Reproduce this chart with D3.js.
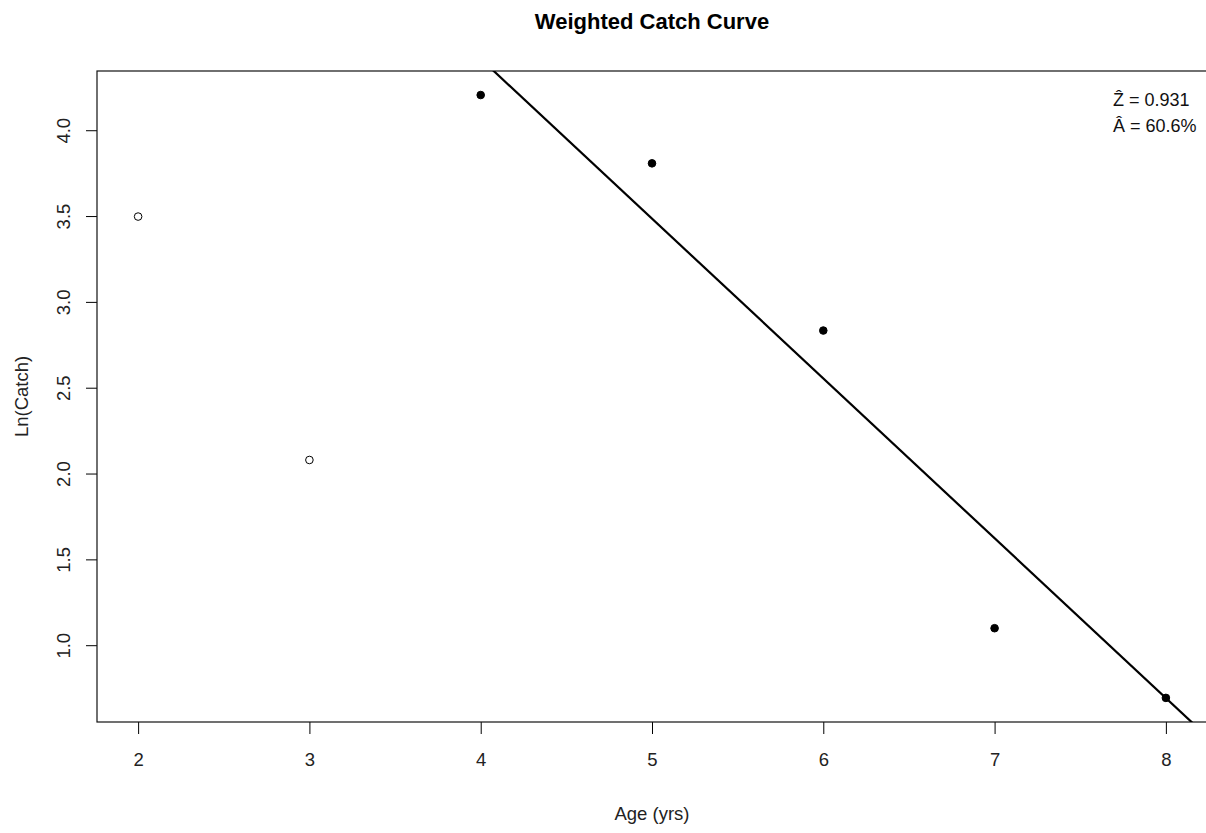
<!DOCTYPE html>
<html><head><meta charset="utf-8">
<script src="https://cdn.jsdelivr.net/npm/d3@7"></script>
<style>body{margin:0;background:#fff}svg text{font-family:"Liberation Sans",Arial,sans-serif}</style>
</head><body><svg id="c" width="1206" height="833"></svg>
<script>
const ages = [2, 3, 4, 5, 6, 7, 8];
const lnCatch = [3.497, 2.079, 4.205, 3.807, 2.833, 1.099, 0.693];
const used = [false, false, true, true, true, true, true];
const xTicks = [2, 3, 4, 5, 6, 7, 8];
const yTicks = [1.0, 1.5, 2.0, 2.5, 3.0, 3.5, 4.0];
const fitIntercept = 8.14;
const fitSlope = -0.931;
const statLabels = ["Ẑ = 0.931", "Â = 60.6%"];

const svg = d3.select("#c");
const L = 97, R = 1207, T = 71, B = 722;
const FS = 18.5;
const x = d3.scaleLinear().domain([1.76, 8.24]).range([L, R]);
const y = d3.scaleLinear().domain([0.5526, 4.345]).range([B, T]);

svg.append("text").attr("x", (L + R) / 2).attr("y", 29).attr("text-anchor", "middle")
  .attr("font-size", 22).attr("font-weight", "bold").text("Weighted Catch Curve");

const xa = svg.append("g").attr("transform", `translate(0,${B})`)
  .call(d3.axisBottom(x).tickValues(xTicks).tickSize(12).tickPadding(19).tickFormat(d3.format("d")));
xa.select(".domain").remove();
xa.selectAll("text").attr("font-size", FS).attr("fill", "#222");

const ya = svg.append("g").attr("transform", `translate(${L},0)`)
  .call(d3.axisLeft(y).tickValues(yTicks).tickSize(11).tickFormat(d3.format(".1f")));
ya.select(".domain").remove();
ya.selectAll(".tick text").attr("font-size", FS).attr("fill", "#222")
  .attr("text-anchor", "middle").attr("x", 0).attr("y", 0).attr("dy", "0.35em")
  .attr("transform", "translate(-33,0) rotate(-90)");

svg.append("rect").attr("x", L).attr("y", T).attr("width", R - L).attr("height", B - T)
  .attr("fill", "none").attr("stroke", "#111").attr("stroke-width", 1.2);

svg.append("text").attr("x", (L + R) / 2).attr("y", 820).attr("text-anchor", "middle")
  .attr("font-size", FS).attr("fill", "#222").text("Age (yrs)");
svg.append("text").attr("transform", `translate(28,${(T + B) / 2}) rotate(-90)`)
  .attr("text-anchor", "middle").attr("font-size", FS).attr("fill", "#222").text("Ln(Catch)");

svg.append("defs").append("clipPath").attr("id", "pc").append("rect")
  .attr("x", L).attr("y", T).attr("width", R - L).attr("height", B - T);

const pts = ages.map((a, i) => ({a, v: lnCatch[i], u: used[i]}));
svg.append("g").selectAll("circle").data(pts).join("circle")
  .attr("cx", d => x(d.a)).attr("cy", d => y(d.v)).attr("r", 3.8)
  .attr("fill", d => d.u ? "#000" : "none").attr("stroke", "#000").attr("stroke-width", 1);

const xs = [1.76, 8.24];
svg.append("path").attr("clip-path", "url(#pc)")
  .attr("d", d3.line().x(d => x(d)).y(d => y(fitIntercept + fitSlope * d))(xs))
  .attr("stroke", "#000").attr("stroke-width", 2.2).attr("fill", "none");

svg.append("g").selectAll("text").data(statLabels).join("text")
  .attr("x", 1113).attr("y", (d, i) => 106 + i * 26).attr("text-anchor", "start")
  .attr("font-size", 18).attr("fill", "#111").text(d => d);
</script></body></html>
